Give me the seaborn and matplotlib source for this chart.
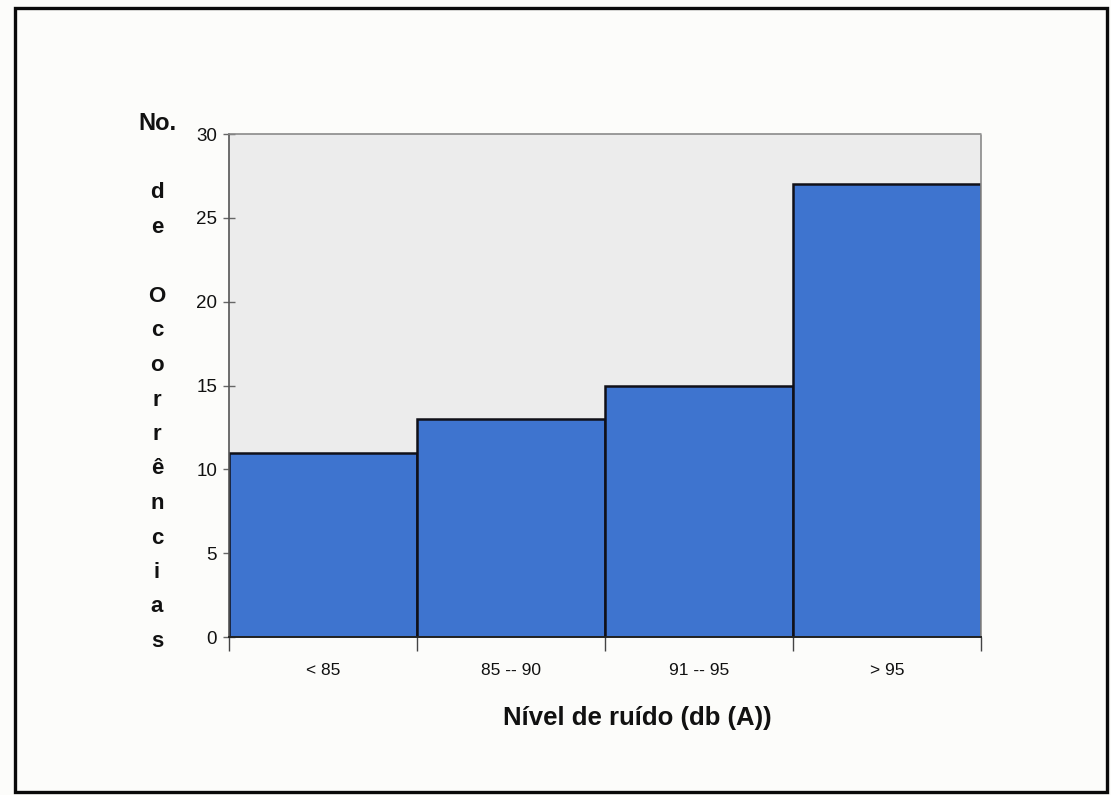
import matplotlib
matplotlib.use("Agg")
import matplotlib.pyplot as plt
from matplotlib.patches import Rectangle
from matplotlib.ticker import FixedLocator
import seaborn as sns

# Occurrences per noise-level band
categories = ["< 85", "85 -- 90", "91 -- 95", "> 95"]
occurrences = [11, 13, 15, 27]
y_ticks = [0, 5, 10, 15, 20, 25, 30]
x_title = "Nível de ruído (db (A))"
y_title_lines = ["No.", "", "d", "e", "", "O", "c", "o", "r", "r", "ê", "n", "c", "i", "a", "s"]

sns.set_theme(style="white")
plt.rcParams["font.family"] = ["Liberation Sans", "DejaVu Sans"]

W, H = 1111, 795
fig = plt.figure(figsize=(W / 100, H / 100), dpi=100, facecolor="#fcfcfa")
ax = fig.add_axes([229 / W, 1 - 637 / H, (981 - 229) / W, (637 - 134) / H])
ax.set_facecolor("#ececec")

sns.barplot(x=categories, y=occurrences, color="#3e74cf", saturation=1,
            width=1.0, edgecolor="#101018", linewidth=1.8, ax=ax)

ax.set_xlim(-0.5, len(categories) - 0.5)
ax.set_ylim(0, 30)
ax.set_yticks(y_ticks)
ax.set_yticklabels([str(t) for t in y_ticks])
ax.tick_params(axis="y", direction="inout", length=9, width=1, color="#666666",
               labelsize=13.5, pad=4, left=True, labelcolor="#111111")
ax.tick_params(axis="x", which="major", length=0, pad=19, labelsize=12.5,
               labelcolor="#111111")
ax.xaxis.set_minor_locator(FixedLocator([i - 0.5 for i in range(len(categories) + 1)]))
ax.tick_params(axis="x", which="minor", direction="out", length=10, width=1,
               color="#444444", bottom=True)
ax.set_xlabel("")
ax.set_ylabel("")

for side in ["top", "right"]:
    ax.spines[side].set_visible(True)
    ax.spines[side].set_color("#8a8a8a")
    ax.spines[side].set_linestyle((0, (1, 1)))
    ax.spines[side].set_linewidth(1.2)
ax.spines["left"].set_color("#555555")
ax.spines["left"].set_linewidth(1.2)
ax.spines["bottom"].set_color("#222222")
ax.spines["bottom"].set_linewidth(1.4)

# x-axis title
fig.text(637 / W, 1 - 718 / H, x_title, ha="center", va="center",
         fontsize=18.5, fontweight="bold", color="#111111")

# stacked y-axis title, one letter per line
top_px, step_px = 124, 34.5
for i, ch in enumerate(y_title_lines):
    if ch:
        fig.text(157 / W, 1 - (top_px + i * step_px) / H, ch, ha="center",
                 va="center", fontsize=17 if i == 0 else 16,
                 fontweight="bold", color="#111111")

# frame around the whole figure
fig.patches.append(Rectangle((15 / W, 1 - 792 / H), (1107 - 15) / W, (792 - 8) / H,
                             transform=fig.transFigure, fill=False,
                             edgecolor="#0a0a0a", linewidth=2.4))

fig.savefig("out.png", dpi=100, facecolor=fig.get_facecolor())
